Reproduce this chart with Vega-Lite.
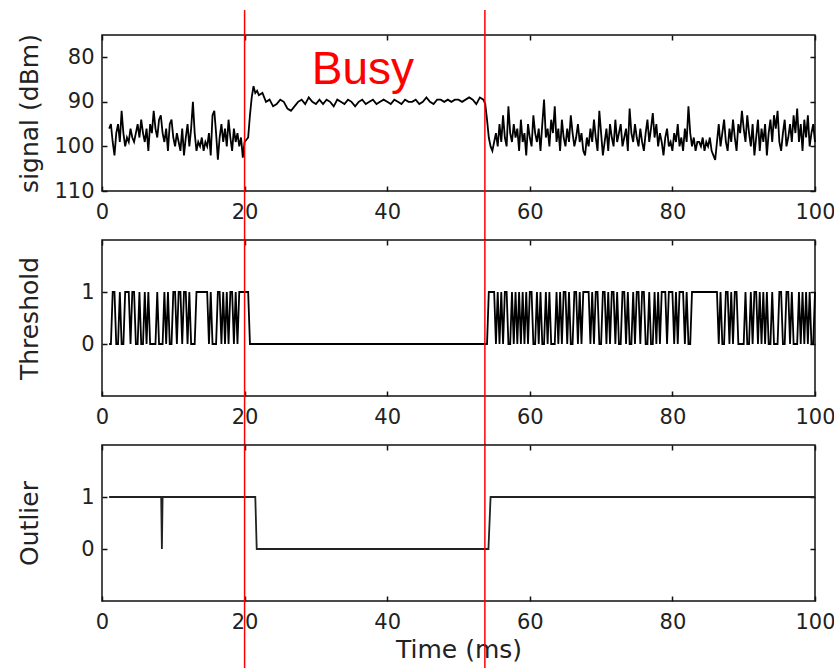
{
  "$schema": "https://vega.github.io/schema/vega-lite/v6.json",
  "background": "white",
  "padding": {"left": 16, "top": 8, "right": 0, "bottom": 0},
  "autosize": {"type": "pad"},
  "bounds": "flush",
  "spacing": 49,
  "config": {
    "view": {"stroke": "#111", "strokeWidth": 1.5},
    "axis": {"labelFont": "DejaVu Sans", "labelFontSize": 21, "labelColor": "#222", "titleFont": "DejaVu Sans", "titleFontSize": 25, "titleFontWeight": "normal", "titleColor": "#222", "grid": false, "domain": false, "tickColor": "#111", "tickSize": -5, "tickWidth": 1.5, "labelFlush": false, "labelOverlap": false},
    "axisX": {"labelPadding": 15},
    "axisY": {"labelPadding": 13}
  },
  "datasets": {
    "sig": [
      {"t":1,"s":96,"h":0},{"t":1.25,"s":95,"h":0},{"t":1.5,"s":99,"h":1},{"t":1.75,"s":102,"h":1},{"t":2,"s":97,"h":0},{"t":2.25,"s":95,"h":0},{"t":2.5,"s":99,"h":1},{"t":2.75,"s":92,"h":0},{"t":3,"s":97,"h":0},{"t":3.25,"s":100,"h":1},{"t":3.5,"s":98,"h":1},{"t":3.75,"s":99,"h":1},{"t":4,"s":96,"h":0},{"t":4.25,"s":98,"h":1},{"t":4.5,"s":99,"h":1},{"t":4.75,"s":97,"h":0},{"t":5,"s":95,"h":0},{"t":5.25,"s":98,"h":1},{"t":5.5,"s":94,"h":0},{"t":5.75,"s":97,"h":0},{"t":6,"s":99,"h":1},{"t":6.25,"s":96,"h":0},{"t":6.5,"s":101,"h":1},{"t":6.75,"s":95,"h":0},{"t":7,"s":97,"h":0},{"t":7.25,"s":92,"h":0},{"t":7.5,"s":96,"h":0},{"t":7.75,"s":98,"h":1},{"t":8,"s":94,"h":0},{"t":8.25,"s":93,"h":0},{"t":8.5,"s":97,"h":0},{"t":8.75,"s":99,"h":1},{"t":9,"s":96,"h":0},{"t":9.25,"s":101,"h":1},{"t":9.5,"s":95,"h":0},{"t":9.75,"s":94,"h":0},{"t":10,"s":98,"h":1},{"t":10.25,"s":100,"h":1},{"t":10.5,"s":97,"h":0},{"t":10.75,"s":99,"h":1},{"t":11,"s":101,"h":1},{"t":11.25,"s":96,"h":0},{"t":11.5,"s":102,"h":1},{"t":11.75,"s":98,"h":1},{"t":12,"s":95,"h":0},{"t":12.25,"s":100,"h":1},{"t":12.5,"s":96,"h":0},{"t":12.75,"s":90,"h":0},{"t":13,"s":97,"h":0},{"t":13.25,"s":101,"h":1},{"t":13.5,"s":99,"h":1},{"t":13.75,"s":100,"h":1},{"t":14,"s":98,"h":1},{"t":14.25,"s":101,"h":1},{"t":14.5,"s":99,"h":1},{"t":14.75,"s":100,"h":1},{"t":15,"s":97,"h":0},{"t":15.25,"s":102,"h":1},{"t":15.5,"s":93,"h":0},{"t":15.75,"s":92,"h":0},{"t":16,"s":97,"h":0},{"t":16.25,"s":103,"h":1},{"t":16.5,"s":98,"h":1},{"t":16.75,"s":95,"h":0},{"t":17,"s":99,"h":1},{"t":17.25,"s":96,"h":0},{"t":17.5,"s":100,"h":1},{"t":17.75,"s":94,"h":0},{"t":18,"s":98,"h":1},{"t":18.25,"s":101,"h":1},{"t":18.5,"s":96,"h":0},{"t":18.75,"s":99,"h":1},{"t":19,"s":97,"h":0},{"t":19.25,"s":100,"h":1},{"t":19.5,"s":98,"h":1},{"t":19.75,"s":102.5,"h":1},{"t":20,"s":99,"h":1},{"t":20.25,"s":98.5,"h":1},{"t":20.5,"s":98,"h":1},{"t":20.75,"s":93,"h":0},{"t":21,"s":89,"h":0},{"t":21.25,"s":86.5,"h":0},{"t":21.5,"s":88,"h":0},{"t":21.75,"s":87.5,"h":0},
      {"t":22,"s":88.5,"h":0},{"t":22.5,"s":88,"h":0},{"t":23,"s":90,"h":0},{"t":23.5,"s":89.5,"h":0},{"t":24,"s":91,"h":0},{"t":24.5,"s":90.5,"h":0},{"t":25,"s":89.5,"h":0},{"t":25.5,"s":90,"h":0},{"t":26,"s":91.5,"h":0},{"t":26.5,"s":92,"h":0},{"t":27,"s":91,"h":0},{"t":27.5,"s":90,"h":0},{"t":28,"s":89.5,"h":0},{"t":28.5,"s":90.5,"h":0},{"t":29,"s":89,"h":0},{"t":29.5,"s":90,"h":0},{"t":30,"s":90.5,"h":0},{"t":30.5,"s":89.5,"h":0},{"t":31,"s":90.5,"h":0},{"t":31.5,"s":89.5,"h":0},{"t":32,"s":90,"h":0},{"t":32.5,"s":91,"h":0},{"t":33,"s":89.5,"h":0},{"t":33.5,"s":90,"h":0},{"t":34,"s":90.5,"h":0},{"t":34.5,"s":89.5,"h":0},{"t":35,"s":90,"h":0},{"t":35.5,"s":91,"h":0},{"t":36,"s":90,"h":0},{"t":36.5,"s":89.5,"h":0},{"t":37,"s":90.5,"h":0},{"t":37.5,"s":90,"h":0},{"t":38,"s":89.5,"h":0},{"t":38.5,"s":90.5,"h":0},{"t":39,"s":90,"h":0},{"t":39.5,"s":89.5,"h":0},{"t":40,"s":90,"h":0},{"t":40.5,"s":90.5,"h":0},{"t":41,"s":89.5,"h":0},{"t":41.5,"s":90,"h":0},{"t":42,"s":90.5,"h":0},{"t":42.5,"s":89.5,"h":0},{"t":43,"s":90,"h":0},{"t":43.5,"s":90,"h":0},{"t":44,"s":89.5,"h":0},{"t":44.5,"s":90.5,"h":0},{"t":45,"s":90,"h":0},{"t":45.5,"s":89,"h":0},{"t":46,"s":90,"h":0},{"t":46.5,"s":90.5,"h":0},{"t":47,"s":89.5,"h":0},{"t":47.5,"s":89.5,"h":0},{"t":48,"s":90,"h":0},{"t":48.5,"s":89.5,"h":0},{"t":49,"s":90,"h":0},{"t":49.5,"s":89.5,"h":0},{"t":50,"s":89.5,"h":0},{"t":50.5,"s":90,"h":0},{"t":51,"s":89.5,"h":0},{"t":51.5,"s":89,"h":0},{"t":52,"s":89.5,"h":0},{"t":52.5,"s":90.5,"h":0},{"t":53,"s":89,"h":0},{"t":53.5,"s":89.5,"h":0},{"t":53.75,"s":90.5,"h":0},
      {"t":54,"s":94,"h":0},{"t":54.25,"s":98,"h":1},{"t":54.5,"s":100,"h":1},{"t":54.75,"s":101,"h":1},{"t":55,"s":99,"h":1},{"t":55.25,"s":97,"h":0},{"t":55.5,"s":100,"h":1},{"t":55.75,"s":95,"h":0},{"t":56,"s":99,"h":1},{"t":56.25,"s":93,"h":0},{"t":56.5,"s":98,"h":1},{"t":56.75,"s":100,"h":1},{"t":57,"s":91,"h":0},{"t":57.25,"s":97,"h":0},{"t":57.5,"s":99,"h":1},{"t":57.75,"s":95,"h":0},{"t":58,"s":98,"h":1},{"t":58.25,"s":96,"h":0},{"t":58.5,"s":101,"h":1},{"t":58.75,"s":94,"h":0},{"t":59,"s":99,"h":1},{"t":59.25,"s":97,"h":0},{"t":59.5,"s":102,"h":1},{"t":59.75,"s":95,"h":0},{"t":60,"s":98,"h":1},{"t":60.25,"s":100,"h":1},{"t":60.5,"s":93,"h":0},{"t":60.75,"s":97,"h":0},{"t":61,"s":99,"h":1},{"t":61.25,"s":96,"h":0},{"t":61.5,"s":101,"h":1},{"t":61.75,"s":95,"h":0},{"t":62,"s":89.5,"h":0},{"t":62.25,"s":98,"h":1},{"t":62.5,"s":96,"h":0},{"t":62.75,"s":100,"h":1},{"t":63,"s":94,"h":0},{"t":63.25,"s":97,"h":0},{"t":63.5,"s":91,"h":0},{"t":63.75,"s":99,"h":1},{"t":64,"s":96,"h":0},{"t":64.25,"s":101,"h":1},{"t":64.5,"s":94,"h":0},{"t":64.75,"s":98,"h":1},{"t":65,"s":100,"h":1},{"t":65.25,"s":96,"h":0},{"t":65.5,"s":99,"h":1},{"t":65.75,"s":93,"h":0},{"t":66,"s":97,"h":0},{"t":66.25,"s":100,"h":1},{"t":66.5,"s":98,"h":1},{"t":66.75,"s":95,"h":0},{"t":67,"s":99,"h":1},{"t":67.25,"s":97,"h":0},{"t":67.5,"s":101,"h":1},{"t":67.75,"s":102,"h":1},{"t":68,"s":98,"h":1},{"t":68.25,"s":100,"h":1},{"t":68.5,"s":96,"h":0},{"t":68.75,"s":99,"h":1},{"t":69,"s":94,"h":0},{"t":69.25,"s":98,"h":1},{"t":69.5,"s":101,"h":1},{"t":69.75,"s":92,"h":0},{"t":70,"s":97,"h":0},{"t":70.25,"s":102,"h":1},{"t":70.5,"s":99,"h":1},{"t":70.75,"s":96,"h":0},{"t":71,"s":101,"h":1},{"t":71.25,"s":95,"h":0},{"t":71.5,"s":98,"h":1},{"t":71.75,"s":100,"h":1},{"t":72,"s":94,"h":0},{"t":72.25,"s":99,"h":1},{"t":72.5,"s":97,"h":0},{"t":72.75,"s":95,"h":0},{"t":73,"s":100,"h":1},{"t":73.25,"s":98,"h":1},{"t":73.5,"s":96,"h":0},{"t":73.75,"s":101,"h":1},{"t":74,"s":91.5,"h":0},{"t":74.25,"s":97,"h":0},{"t":74.5,"s":99,"h":1},{"t":74.75,"s":95,"h":0},{"t":75,"s":98,"h":1},{"t":75.25,"s":100,"h":1},{"t":75.5,"s":96,"h":0},{"t":75.75,"s":99,"h":1},{"t":76,"s":101,"h":1},{"t":76.25,"s":97,"h":0},{"t":76.5,"s":94,"h":0},{"t":76.75,"s":99,"h":1},{"t":77,"s":96,"h":0},{"t":77.25,"s":92.5,"h":0},{"t":77.5,"s":98,"h":1},{"t":77.75,"s":95,"h":0},{"t":78,"s":100,"h":1},{"t":78.25,"s":97,"h":0},{"t":78.5,"s":99,"h":1},{"t":78.75,"s":102,"h":1},{"t":79,"s":98,"h":1},{"t":79.25,"s":96,"h":0},{"t":79.5,"s":100,"h":1},{"t":79.75,"s":99,"h":1},{"t":80,"s":101,"h":1},{"t":80.25,"s":97,"h":0},{"t":80.5,"s":99,"h":1},{"t":80.75,"s":95,"h":0},{"t":81,"s":100,"h":1},{"t":81.25,"s":98,"h":1},{"t":81.5,"s":101,"h":1},{"t":81.75,"s":96,"h":0},{"t":82,"s":99,"h":1},{"t":82.25,"s":91,"h":0},{"t":82.5,"s":97,"h":0},{"t":82.75,"s":100,"h":1},{"t":83,"s":98,"h":1},{"t":83.25,"s":101,"h":1},{"t":83.5,"s":99,"h":1},{"t":83.75,"s":99,"h":1},{"t":84,"s":100,"h":1},{"t":84.25,"s":98,"h":1},{"t":84.5,"s":101,"h":1},{"t":84.75,"s":99,"h":1},{"t":85,"s":100,"h":1},{"t":85.25,"s":98,"h":1},{"t":85.5,"s":101,"h":1},{"t":85.75,"s":102,"h":1},{"t":86,"s":103,"h":1},{"t":86.25,"s":99,"h":1},{"t":86.5,"s":95,"h":0},{"t":86.75,"s":100,"h":1},{"t":87,"s":97,"h":0},{"t":87.25,"s":94,"h":0},{"t":87.5,"s":99,"h":1},{"t":87.75,"s":101,"h":1},{"t":88,"s":96,"h":0},{"t":88.25,"s":99,"h":1},{"t":88.5,"s":94,"h":0},{"t":88.75,"s":98,"h":1},{"t":89,"s":101,"h":1},{"t":89.25,"s":95,"h":0},{"t":89.5,"s":97,"h":0},{"t":89.75,"s":92,"h":0},{"t":90,"s":96,"h":0},{"t":90.25,"s":99,"h":1},{"t":90.5,"s":93,"h":0},{"t":90.75,"s":97,"h":0},{"t":91,"s":100,"h":1},{"t":91.25,"s":95,"h":0},{"t":91.5,"s":102,"h":1},{"t":91.75,"s":98,"h":1},{"t":92,"s":94,"h":0},{"t":92.25,"s":101,"h":1},{"t":92.5,"s":96,"h":0},{"t":92.75,"s":99,"h":1},{"t":93,"s":95,"h":0},{"t":93.25,"s":102,"h":1},{"t":93.5,"s":97,"h":0},{"t":93.75,"s":94,"h":0},{"t":94,"s":99,"h":1},{"t":94.25,"s":93,"h":0},{"t":94.5,"s":96,"h":0},{"t":94.75,"s":92,"h":0},{"t":95,"s":99,"h":1},{"t":95.25,"s":101,"h":1},{"t":95.5,"s":97,"h":0},{"t":95.75,"s":94,"h":0},{"t":96,"s":100,"h":1},{"t":96.25,"s":98,"h":1},{"t":96.5,"s":95,"h":0},{"t":96.75,"s":99,"h":1},{"t":97,"s":93,"h":0},{"t":97.25,"s":97,"h":0},{"t":97.5,"s":91.5,"h":0},{"t":97.75,"s":99,"h":1},{"t":98,"s":95,"h":0},{"t":98.25,"s":101,"h":1},{"t":98.5,"s":94,"h":0},{"t":98.75,"s":98,"h":1},{"t":99,"s":93,"h":0},{"t":99.25,"s":100,"h":1},{"t":99.5,"s":97,"h":0},{"t":99.75,"s":95,"h":0},{"t":100,"s":99,"h":1}
    ],
    "outlier": [
      {"t":1,"o":1},{"t":8.3,"o":1},{"t":8.4,"o":0},{"t":8.5,"o":1},{"t":21.5,"o":1},{"t":21.7,"o":0},{"t":54.2,"o":0},{"t":54.5,"o":1},{"t":100,"o":1}
    ],
    "busy": [{"t":20},{"t":53.7}],
    "label": [{"text":"Busy"}]
  },
  "vconcat": [
    {
      "width": 713, "height": 156,
      "layer": [
        {"data": {"name": "sig"}, "mark": {"type": "line", "color": "#000", "strokeWidth": 1.8},
         "encoding": {
           "x": {"field": "t", "type": "quantitative", "scale": {"domain": [0, 100], "nice": false}, "axis": {"orient": "bottom", "values": [0,20,40,60,80,100], "title": null}},
           "y": {"field": "s", "type": "quantitative", "scale": {"domain": [75, 110], "reverse": true, "nice": false, "zero": false}, "axis": {"orient": "left", "values": [80,90,100,110], "title": "signal (dBm)", "titleX": -60}}
         }},
        {"data": {"name": "busy"}, "mark": {"type": "rule", "color": "#ff0000", "strokeWidth": 1.5},
         "encoding": {
           "x": {"field": "t", "type": "quantitative", "scale": {"domain": [0, 100], "nice": false}, "axis": {"orient": "top", "values": [0,20,40,60,80,100], "labels": false, "title": null}},
           "y": {"datum": 69.4, "type": "quantitative", "scale": {"domain": [75, 110], "reverse": true, "nice": false, "zero": false}, "axis": {"orient": "right", "values": [80,90,100,110], "labels": false, "title": null}},
           "y2": {"datum": 121}
         }},
        {"data": {"name": "label"}, "mark": {"type": "text", "color": "#ff0000", "font": "Liberation Sans", "fontSize": 46, "align": "center", "baseline": "alphabetic"},
         "encoding": {
           "text": {"field": "text", "type": "nominal"},
           "x": {"datum": 36.6, "type": "quantitative", "scale": {"domain": [0, 100], "nice": false}, "axis": null},
           "y": {"datum": 86, "type": "quantitative", "scale": {"domain": [75, 110], "reverse": true, "nice": false, "zero": false}, "axis": null}
         }}
      ],
      "resolve": {"axis": {"x": "independent", "y": "independent"}}
    },
    {
      "width": 713, "height": 156,
      "layer": [
        {"data": {"name": "sig"}, "mark": {"type": "line", "color": "#000", "strokeWidth": 1.8},
         "encoding": {
           "x": {"field": "t", "type": "quantitative", "scale": {"domain": [0, 100], "nice": false}, "axis": {"orient": "bottom", "values": [0,20,40,60,80,100], "title": null}},
           "y": {"field": "h", "type": "quantitative", "scale": {"domain": [-1, 2], "nice": false, "zero": false}, "axis": {"orient": "left", "values": [0,1], "title": "Threshold", "titleX": -60}}
         }},
        {"data": {"name": "busy"}, "mark": {"type": "rule", "color": "#ff0000", "strokeWidth": 1.5},
         "encoding": {
           "x": {"field": "t", "type": "quantitative", "scale": {"domain": [0, 100], "nice": false}, "axis": {"orient": "top", "values": [0,20,40,60,80,100], "labels": false, "title": null}},
           "y": {"datum": 2, "type": "quantitative", "scale": {"domain": [-1, 2], "nice": false, "zero": false}, "axis": {"orient": "right", "values": [0,1], "labels": false, "title": null}},
           "y2": {"datum": -1.96}
         }}
      ],
      "resolve": {"axis": {"x": "independent", "y": "independent"}}
    },
    {
      "width": 713, "height": 156,
      "layer": [
        {"data": {"name": "outlier"}, "mark": {"type": "line", "color": "#222", "strokeWidth": 1.8},
         "encoding": {
           "x": {"field": "t", "type": "quantitative", "scale": {"domain": [0, 100], "nice": false}, "axis": {"orient": "bottom", "values": [0,20,40,60,80,100], "title": "Time (ms)", "titlePadding": 5}},
           "y": {"field": "o", "type": "quantitative", "scale": {"domain": [-1, 2], "nice": false, "zero": false}, "axis": {"orient": "left", "values": [0,1], "title": "Outlier", "titleX": -60}}
         }},
        {"data": {"name": "busy"}, "mark": {"type": "rule", "color": "#ff0000", "strokeWidth": 1.5},
         "encoding": {
           "x": {"field": "t", "type": "quantitative", "scale": {"domain": [0, 100], "nice": false}, "axis": {"orient": "top", "values": [0,20,40,60,80,100], "labels": false, "title": null}},
           "y": {"datum": 2, "type": "quantitative", "scale": {"domain": [-1, 2], "nice": false, "zero": false}, "axis": {"orient": "right", "values": [0,1], "labels": false, "title": null}},
           "y2": {"datum": -2.3}
         }}
      ],
      "resolve": {"axis": {"x": "independent", "y": "independent"}}
    }
  ]
}
